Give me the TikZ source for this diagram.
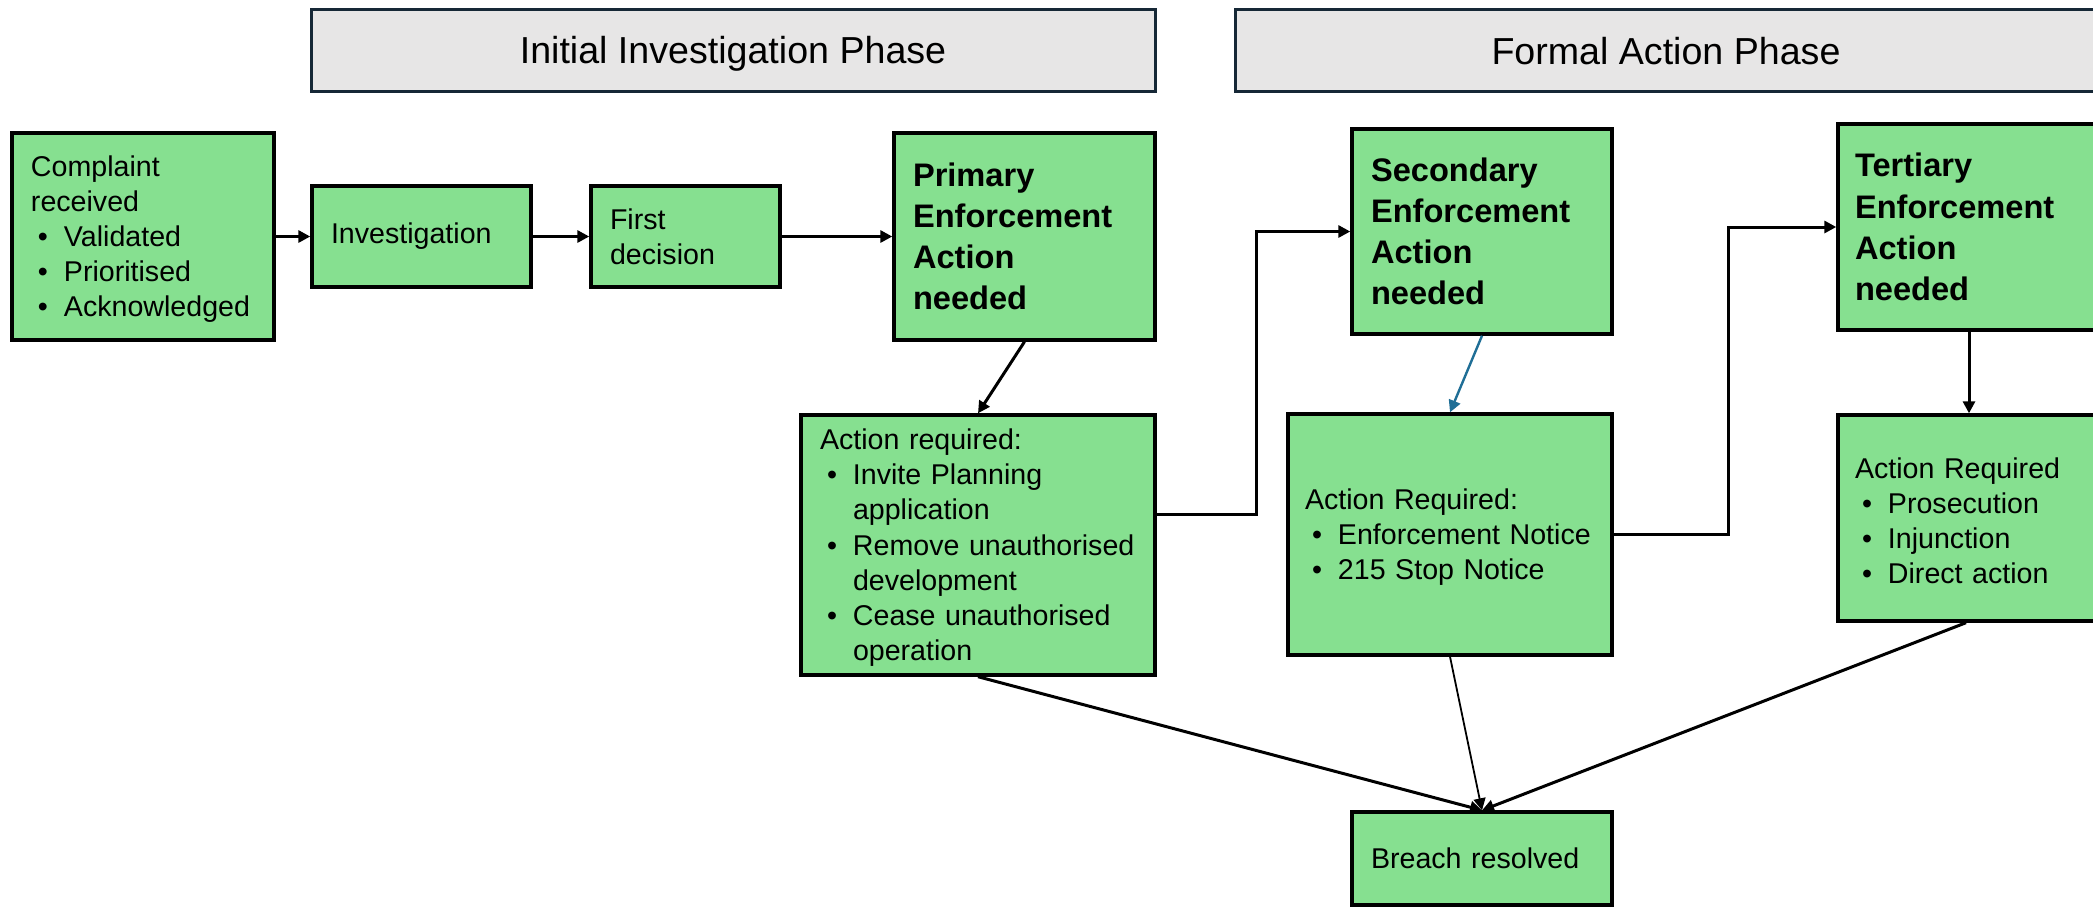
\documentclass[tikz,border=0pt]{standalone}
\usepackage{fontspec}
\setmainfont{Liberation Sans}
\usetikzlibrary{arrows.meta,calc}
\definecolor{boxgreen}{RGB}{134,224,144}
\definecolor{hdrfill}{RGB}{231,230,230}
\definecolor{hdrline}{RGB}{22,40,54}
\definecolor{arrblue}{RGB}{31,110,150}
\newcommand\bul{\makebox[16.5pt][l]{\hspace{3.5pt}\textbullet}}
\newcommand\cont{\hspace*{16.5pt}}
\tikzset{
  box/.style={draw=black, line width=1.7pt, fill=boxgreen, inner xsep=9.5pt, inner ysep=0pt, align=left, font=\fontsize{14.3}{17.6}\selectfont},
  bbox/.style={box, font=\bfseries\fontsize{16.3}{20.6}\selectfont},
  hdr/.style={draw=hdrline, line width=1.5pt, fill=hdrfill, inner sep=0pt, text height=13.5pt, text depth=0pt, font=\fontsize{18.8}{22}\selectfont},
  arr/.style={-{Triangle[length=6pt,width=6pt]}, line width=1.5pt}
}
\begin{document}
\begin{tikzpicture}[x=0.5pt,y=-0.5pt]
\useasboundingbox (0,0) rectangle (2093,907);
% headers
\node[hdr, minimum width=422pt, minimum height=41pt] (h1) at (733,50) {Initial Investigation Phase};
\node[hdr, minimum width=431pt, minimum height=41pt] (h2) at (1666,50.5) {Formal Action Phase};
% boxes
\node[box, text width=112pt, minimum height=103.5pt] (comp) at (143,236.5)
  {\rule{0pt}{13pt}Complaint\\received\\\bul Validated\\\bul Prioritised\\\bul Acknowledged};
\node[box, text width=90.5pt, minimum height=50.5pt] (inv) at (421.5,236.5) {Investigation};
\node[box, text width=75.5pt, minimum height=50.5pt] (fd) at (685.5,236.5) {First\\decision};
\node[bbox, text width=111.5pt, minimum height=103.5pt] (prim) at (1024.5,236.5)
  {Primary\\Enforcement\\Action\\needed};
\node[box, text width=158pt, minimum height=130pt] (actP) at (978,545)
  {\rule{0pt}{13pt}Action required:\\\bul Invite Planning\\\cont application\\\bul Remove unauthorised\\\cont development\\\bul Cease unauthorised\\\cont operation};
\node[bbox, text width=111pt, minimum height=102.5pt] (sec) at (1482,231.5)
  {Secondary\\Enforcement\\Action\\needed};
\node[box, inner xsep=8.5pt, text width=145pt, minimum height=120.5pt] (actS) at (1450,534.5)
  {\rule{0pt}{13pt}Action Required:\\\bul Enforcement Notice\\\bul 215 Stop Notice};
\node[bbox, inner xsep=8.5pt, text width=114pt, minimum height=103pt] (ter) at (1969,227)
  {Tertiary\\Enforcement\\Action\\needed};
\node[box, inner xsep=8.5pt, text width=114pt, minimum height=103pt] (actT) at (1969,518)
  {\rule{0pt}{13pt}Action Required\\\bul Prosecution\\\bul Injunction\\\bul Direct action};
\node[box, text width=111pt, minimum height=46.5pt] (br) at (1482,858.5) {Breach resolved};
% connectors
\draw[arr] (comp.east) -- (inv.west);
\draw[arr] (inv.east) -- (fd.west);
\draw[arr] (fd.east) -- (prim.west);
\draw[arr] (prim.south) -- (actP.north);
\draw[arr] ([yshift=15.5pt]actP.east) -- ++(50pt,0pt) |- (sec.west);
\draw[arr, draw=arrblue, line width=1.2pt] (sec.south) -- (actS.north);
\draw[arr] (actS.east) -- ++(57.5pt,0pt) |- (ter.west);
\draw[arr] (ter.south) -- (actT.north);
\draw[arr] (actP.south) -- (br.north);
\draw[arr, line width=0.9pt] (actS.south) -- (br.north);
\draw[arr] ([xshift=-1.5pt]actT.south) -- (br.north);
\end{tikzpicture}
\end{document}
